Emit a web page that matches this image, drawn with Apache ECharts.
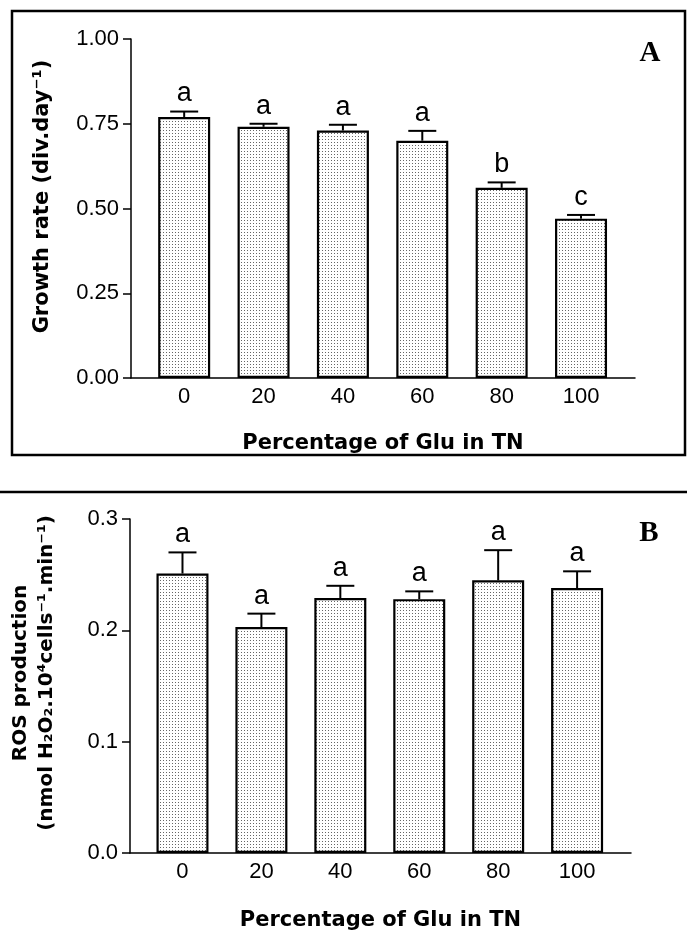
<!DOCTYPE html>
<html>
<head>
<meta charset="utf-8">
<script src="https://cdn.jsdelivr.net/npm/echarts@6/dist/echarts.min.js"></script>
<style>
  html, body { margin: 0; padding: 0; background: #fff; }
  #chart { width: 687px; height: 932px; }
</style>
</head>
<body>
<div id="chart"></div>
<script>
const categories = ['0', '20', '40', '60', '80', '100'];

// panel A: growth rate
const growthMean = [0.770, 0.741, 0.730, 0.700, 0.561, 0.470];
const growthErr = [0.016, 0.009, 0.017, 0.029, 0.016, 0.011];
const growthLetters = ['a', 'a', 'a', 'a', 'b', 'c'];
const growthTicks = [0, 0.25, 0.5, 0.75, 1.0];

// panel B: ROS production
const rosMean = [0.251, 0.203, 0.229, 0.228, 0.245, 0.238];
const rosErr = [0.019, 0.012, 0.011, 0.007, 0.027, 0.015];
const rosLetters = ['a', 'a', 'a', 'a', 'a', 'a'];
const rosTicks = [0, 0.1, 0.2, 0.3];

const chart = echarts.init(document.getElementById('chart'));

// stipple fill like the original figure
const pat = document.createElement('canvas');
pat.width = 3;
pat.height = 3;
const pctx = pat.getContext('2d');
pctx.fillStyle = '#fff';
pctx.fillRect(0, 0, 3, 3);
pctx.fillStyle = '#666';
pctx.fillRect(1, 1, 1, 1);

const titleFont = 'DejaVu Sans';
const tickFont = 'Liberation Sans';

function xAxisFor(gridIndex, min, max, gap) {
  return {
    gridIndex,
    type: 'value',
    min,
    max,
    axisLine: { show: true, onZero: false, lineStyle: { color: '#000', width: 1.5 } },
    axisTick: { show: false },
    splitLine: { show: false },
    axisLabel: {
      customValues: categories.map((c, i) => i),
      formatter: v => categories[Math.round(v)],
      color: '#000',
      fontFamily: tickFont,
      fontSize: 22,
      margin: 8
    },
    name: 'Percentage of Glu in TN',
    nameLocation: 'middle',
    nameGap: gap,
    nameTextStyle: { fontFamily: titleFont, fontWeight: 'bold', fontSize: 21, color: '#000' }
  };
}

function yAxisFor(gridIndex, ticks, decimals, name, gap, nameStyle) {
  return {
    gridIndex,
    type: 'value',
    min: ticks[0],
    max: ticks[ticks.length - 1],
    interval: ticks[1] - ticks[0],
    axisLine: { show: true, onZero: false, lineStyle: { color: '#000', width: 1.5 } },
    axisTick: { show: true, length: 8, lineStyle: { color: '#000', width: 1.5 } },
    splitLine: { show: false },
    axisLabel: {
      formatter: v => v.toFixed(decimals),
      color: '#000',
      fontFamily: tickFont,
      fontSize: 22,
      margin: 12
    },
    name,
    nameLocation: 'middle',
    nameRotate: 90,
    nameGap: gap,
    nameTextStyle: Object.assign({ fontFamily: titleFont, fontWeight: 'bold', fontSize: 21, color: '#000' }, nameStyle)
  };
}

function barSeries(idx, means) {
  return {
    type: 'bar',
    xAxisIndex: idx,
    yAxisIndex: idx,
    barWidth: 52,
    data: means.map((v, i) => [i, v]),
    itemStyle: { color: { image: pat, repeat: 'repeat' }, borderColor: '#000', borderWidth: 2.2 },
    silent: true,
    z: 2
  };
}

function errSeries(idx, means, errs, letters) {
  return {
    type: 'custom',
    xAxisIndex: idx,
    yAxisIndex: idx,
    data: means.map((v, i) => [i, v, errs[i]]),
    renderItem: (params, api) => {
      const x = api.value(0);
      const v = api.value(1);
      const e = api.value(2);
      const base = api.coord([x, v]);
      const top = api.coord([x, v + e]);
      return {
        type: 'group',
        children: [
          { type: 'line', shape: { x1: base[0], y1: base[1], x2: top[0], y2: top[1] }, style: { stroke: '#000', lineWidth: 2 } },
          { type: 'line', shape: { x1: top[0] - 14, y1: top[1], x2: top[0] + 14, y2: top[1] }, style: { stroke: '#000', lineWidth: 2 } },
          {
            type: 'text',
            x: top[0],
            y: top[1] - 4,
            style: { text: letters[params.dataIndex], fill: '#000', fontFamily: tickFont, fontSize: 27, align: 'center', verticalAlign: 'bottom' }
          }
        ]
      };
    },
    silent: true,
    z: 3
  };
}

const option = {
  animation: false,
  backgroundColor: '#fff',
  grid: [
    { left: 131, right: 52, top: 39, bottom: 554 },
    { left: 127, right: 56, top: 519, bottom: 74 }
  ],
  xAxis: [
    xAxisFor(0, -0.67, 5.68, 55),
    xAxisFor(1, -0.665, 5.683, 57)
  ],
  yAxis: [
    yAxisFor(0, growthTicks, 2, 'Growth rate (div.day\u207B\u00B9)', 78, { padding: [0, 0, 0, 24] }),
    yAxisFor(1, rosTicks, 1, 'ROS production\n(nmol H\u2082O\u2082.10\u2074cells\u207B\u00B9.min\u207B\u00B9)', 70, { fontSize: 20, lineHeight: 26, padding: [0, 0, 0, 26] })
  ],
  series: [
    barSeries(0, growthMean),
    errSeries(0, growthMean, growthErr, growthLetters),
    barSeries(1, rosMean),
    errSeries(1, rosMean, rosErr, rosLetters)
  ],
  graphic: [
    { type: 'rect', shape: { x: 12, y: 11, width: 673, height: 444 }, style: { fill: 'none', stroke: '#000', lineWidth: 2.5 } },
    { type: 'line', shape: { x1: 0, y1: 492, x2: 687, y2: 492 }, style: { stroke: '#000', lineWidth: 2.5 } },
    { type: 'text', x: 650, y: 54, style: { text: 'A', fontFamily: 'Liberation Serif', fontWeight: 'bold', fontSize: 29, fill: '#000', align: 'center', verticalAlign: 'middle' } },
    { type: 'text', x: 649, y: 534, style: { text: 'B', fontFamily: 'Liberation Serif', fontWeight: 'bold', fontSize: 29, fill: '#000', align: 'center', verticalAlign: 'middle' } }
  ]
};

chart.setOption(option);
</script>
</body>
</html>
